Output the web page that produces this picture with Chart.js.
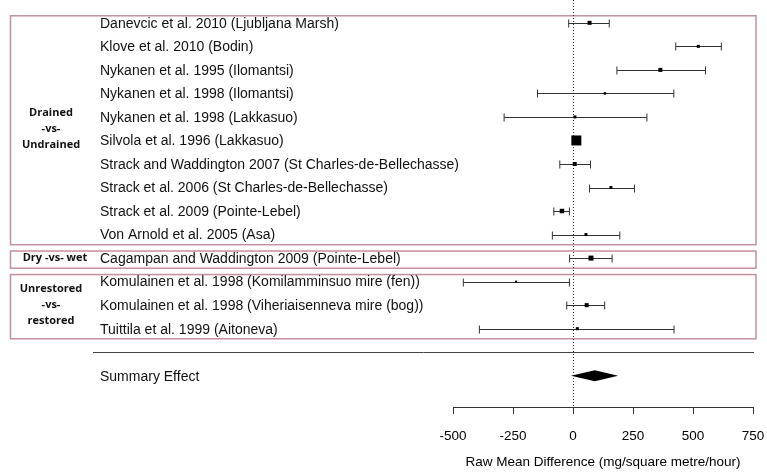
<!DOCTYPE html>
<html>
<head>
<meta charset="utf-8">
<script src="https://cdn.jsdelivr.net/npm/chart.js@4/dist/chart.umd.min.js"></script>
<style>
  html, body { margin: 0; padding: 0; background: #fff; }
  #wrap { width: 767px; height: 473px; position: relative; }
</style>
</head>
<body>
<div id="wrap"><canvas id="forest"></canvas></div>
<script>
// forest plot: CH4 raw mean difference by study

// --- data ---
const studies = [
  'Danevcic et al. 2010 (Ljubljana Marsh)',
  'Klove et al. 2010 (Bodin)',
  'Nykanen et al. 1995 (Ilomantsi)',
  'Nykanen et al. 1998 (Ilomantsi)',
  'Nykanen et al. 1998 (Lakkasuo)',
  'Silvola et al. 1996 (Lakkasuo)',
  'Strack and Waddington 2007 (St Charles-de-Bellechasse)',
  'Strack et al. 2006 (St Charles-de-Bellechasse)',
  'Strack et al. 2009 (Pointe-Lebel)',
  'Von Arnold et al. 2005 (Asa)',
  'Cagampan and Waddington 2009 (Pointe-Lebel)',
  'Komulainen et al. 1998 (Komilamminsuo mire (fen))',
  'Komulainen et al. 1998 (Viheriaisenneva mire (bog))',
  'Tuittila et al. 1999 (Aitoneva)'
];
const estimate = [69, 522, 364, 133, 8, 14, 7, 158, -46, 54, 75, -237, 57, 18];
const lower    = [-18, 428, 183, -148, -287, 8, -55, 69, -80, -86, -14, -457, -26, -390];
const upper    = [151, 618, 552, 420, 308, 20, 73, 256, -15, 195, 163, -15, 132, 421];
const weight   = [6.1, 3.4, 6.1, 2.3, 3.4, 37.9, 6.1, 3.4, 7.6, 3.4, 9.5, 1.5, 6.1, 3.4];

const groupNames = [['Drained', '-vs-', 'Undrained'], ['Dry -vs- wet'], ['Unrestored', '-vs-', 'restored']];
const groupFirst = [0, 10, 11];
const groupLast  = [9, 10, 13];

const summaryLabel = 'Summary Effect';
const summaryEst = 91;
const summaryLower = -8;
const summaryUpper = 188;

const xTicks = [-500, -250, 0, 250, 500, 750];
const xTitle = 'Raw Mean Difference (mg/square metre/hour)';

// --- layout helpers ---
const sepRow = studies.length;        // separator line slot
const summaryRow = studies.length + 1;
const labelFont = '14px "Liberation Sans", Arial, sans-serif';
const groupFont = '700 11px "Open Sans", sans-serif';
const boxColor = '#c3919d';

const forestPlugin = {
  id: 'forest',
  beforeDatasetsDraw(chart) {
    const { ctx, scales: { x, y }, chartArea } = chart;
    const step = Math.abs(y.getPixelForValue(1) - y.getPixelForValue(0));
    ctx.save();

    // group boxes
    ctx.strokeStyle = boxColor;
    ctx.lineWidth = 1.5;
    groupFirst.forEach((f, g) => {
      const top = y.getPixelForValue(f) - step * 0.3;
      const bot = y.getPixelForValue(groupLast[g]) + step * 0.43;
      ctx.strokeRect(10.5, top, 745.5, bot - top);
      // group label
      ctx.fillStyle = '#111';
      ctx.font = groupFont;
      ctx.textAlign = 'center';
      ctx.textBaseline = 'middle';
      const lines = groupNames[g];
      const mid = (y.getPixelForValue(f) + y.getPixelForValue(groupLast[g])) / 2;
      const cx = lines.length === 1 ? 55 : 51;
      lines.forEach((t, k) => {
        ctx.fillText(t, cx, mid + (k - (lines.length - 1) / 2) * 16);
      });
    });

    // study labels
    ctx.fillStyle = '#111';
    ctx.font = labelFont;
    ctx.textAlign = 'left';
    ctx.textBaseline = 'middle';
    studies.forEach((s, i) => ctx.fillText(s, 100, y.getPixelForValue(i) + 1));
    ctx.fillText(summaryLabel, 100, y.getPixelForValue(summaryRow) + 1);

    // separator line
    ctx.strokeStyle = '#444';
    ctx.lineWidth = 1;
    const sy = Math.round(y.getPixelForValue(sepRow)) + 0.5;
    ctx.beginPath();
    ctx.moveTo(93, sy);
    ctx.lineTo(754, sy);
    ctx.stroke();

    // zero reference line (dotted)
    const zx = Math.round(x.getPixelForValue(0)) + 0.5;
    ctx.strokeStyle = '#333';
    ctx.setLineDash([1, 2]);
    ctx.beginPath();
    ctx.moveTo(zx, 0);
    ctx.lineTo(zx, chartArea.bottom);
    ctx.stroke();
    ctx.setLineDash([]);

    // whiskers
    ctx.strokeStyle = '#333';
    ctx.lineWidth = 1;
    studies.forEach((s, i) => {
      const py = Math.round(y.getPixelForValue(i)) + 0.5;
      const x0 = x.getPixelForValue(lower[i]);
      const x1 = x.getPixelForValue(upper[i]);
      ctx.beginPath();
      ctx.moveTo(x0, py); ctx.lineTo(x1, py);
      ctx.moveTo(x0, py - 4); ctx.lineTo(x0, py + 4);
      ctx.moveTo(x1, py - 4); ctx.lineTo(x1, py + 4);
      ctx.stroke();
    });

    // summary diamond
    const dy = y.getPixelForValue(summaryRow);
    ctx.fillStyle = '#000';
    ctx.beginPath();
    ctx.moveTo(x.getPixelForValue(summaryLower), dy);
    ctx.lineTo(x.getPixelForValue(summaryEst), dy - 5.5);
    ctx.lineTo(x.getPixelForValue(summaryUpper), dy);
    ctx.lineTo(x.getPixelForValue(summaryEst), dy + 5.5);
    ctx.closePath();
    ctx.fill();

    ctx.restore();
  }
};

const maxW = Math.max(...weight);
const pointData = estimate.map((v, i) => ({ x: v, y: i }));
const radii = weight.map(w => Math.sqrt(w / maxW) * 10 / Math.SQRT2);

new Chart(document.getElementById('forest'), {
  type: 'scatter',
  data: {
    datasets: [{
      data: pointData,
      pointStyle: 'rect',
      pointRadius: radii,
      backgroundColor: '#000',
      borderColor: '#000',
      borderWidth: 0
    }]
  },
  options: {
    responsive: true,
    maintainAspectRatio: false,
    animation: false,
    layout: { padding: { left: 453, right: 14, top: 0, bottom: 0 } },
    plugins: { legend: { display: false }, tooltip: { enabled: false } },
    scales: {
      x: {
        type: 'linear',
        min: -500,
        max: 750,
        afterBuildTicks: s => { s.ticks = xTicks.map(v => ({ value: v })); },
        afterFit: s => { s.height = 66; s.paddingLeft = 0; s.paddingRight = 0; },
        grid: { drawOnChartArea: false, drawTicks: true, tickLength: 7, color: '#333', lineWidth: 1 },
        border: { display: true, color: '#333', width: 1 },
        ticks: {
          color: '#000',
          font: { family: '"Liberation Sans", Arial, sans-serif', size: 13.5 },
          padding: 14,
          maxRotation: 0,
          autoSkip: false
        },
        title: {
          display: true,
          text: xTitle,
          color: '#000',
          font: { family: '"Liberation Sans", Arial, sans-serif', size: 13.5 },
          padding: { top: 4, bottom: 3 }
        }
      },
      y: {
        type: 'linear',
        display: false,
        reverse: true,
        min: -0.67,
        max: 16.33
      }
    }
  },
  plugins: [forestPlugin]
});
</script>
</body>
</html>
